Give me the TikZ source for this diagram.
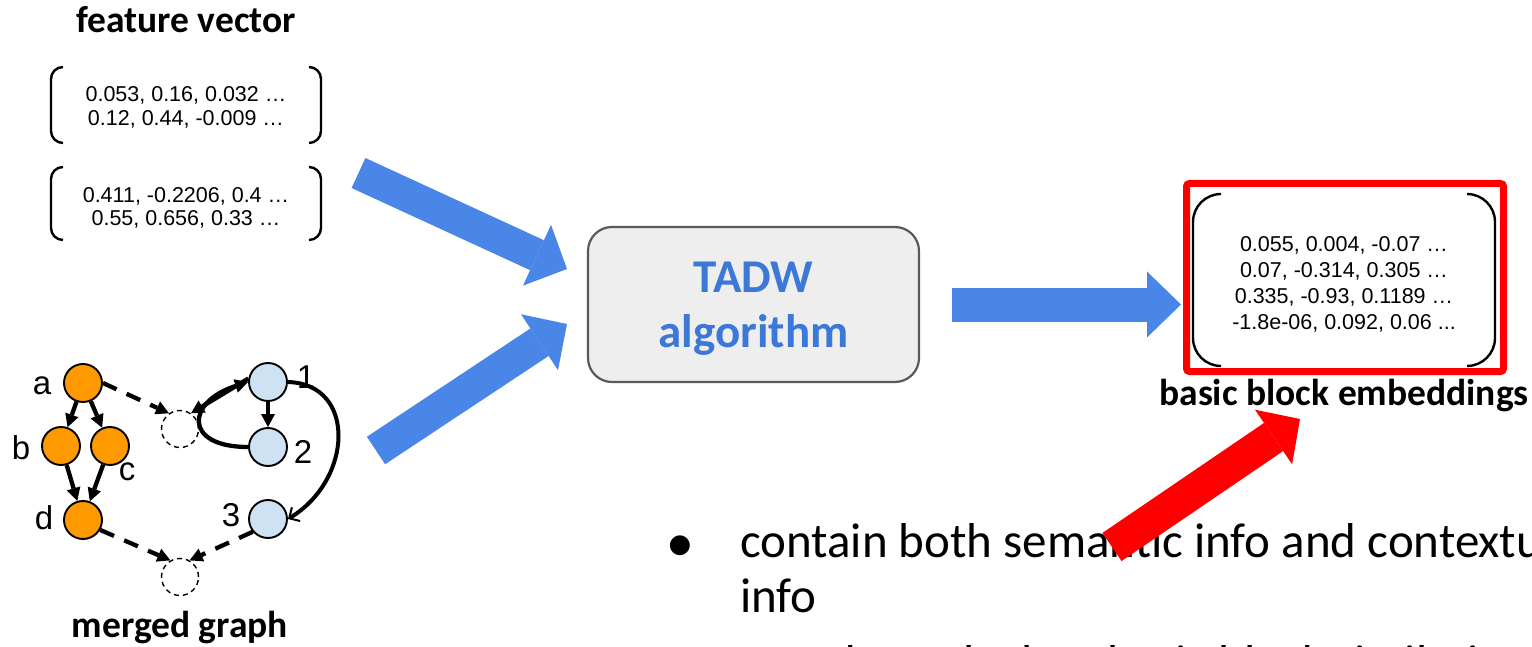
\documentclass[tikz,border=0pt]{standalone}
\usepackage{fontspec}
\setmainfont{Carlito}
\newfontfamily\numfont{Liberation Sans}
\newfontfamily\symfont{DejaVu Sans}
\usetikzlibrary{arrows.meta,calc}

\definecolor{flowblue}{HTML}{4A86E8}
\definecolor{titleblue}{HTML}{3C78D8}
\definecolor{boxgray}{HTML}{EEEEEE}
\definecolor{boxedge}{HTML}{595959}
\definecolor{cfgorange}{HTML}{FF9900}
\definecolor{cfgblue}{HTML}{CFE2F3}

% round brackets drawn on the left and right sides of a node
\newcommand\vecbrackets[2]{%
  \draw[bracketline, rounded corners=#2] ($(#1.north west)+(#2,0)$) -- (#1.north west)
    -- (#1.south west) -- ($(#1.south west)+(#2,0)$);
  \draw[bracketline, rounded corners=#2] ($(#1.north east)+(-#2,0)$) -- (#1.north east)
    -- (#1.south east) -- ($(#1.south east)+(-#2,0)$);
}

\begin{document}
\begin{tikzpicture}[x=1pt,y=-1pt,
  bracketline/.style={line width=2.4pt},
  vecbox/.style={inner sep=0pt, outer sep=0pt},
  vectext/.style={inner sep=0pt, align=center, font=\numfont\fontsize{21.5}{23.5}\selectfont},
  heading/.style={inner sep=0pt, anchor=base, font=\bfseries\fontsize{37.5}{40}\selectfont},
  bigarrow/.style={draw=flowblue, line width=33pt,
    -{Triangle[length=33pt,width=67pt,line width=0pt]}},
  cfgnode/.style={circle, draw, line width=1.9pt, minimum size=38pt, inner sep=0pt},
  ghost/.style={circle, draw, fill=white, dash pattern=on 5pt off 4pt, line width=1.4pt,
    minimum size=37pt, inner sep=0pt},
  cfgedge/.style={line width=4.3pt, -{Triangle[length=13pt,width=14pt,line width=0pt]}},
  ghostedge/.style={cfgedge, dash pattern=on 15pt off 11pt},
  glabel/.style={inner sep=0pt, font=\numfont\fontsize{33}{35}\selectfont},
  bodytext/.style={inner sep=0pt, anchor=base west, font=\fontsize{49}{58}\selectfont}
]
\useasboundingbox (0,0) rectangle (1532,647);
\clip (0,0) rectangle (1532,647);
\fill[white] (0,0) rectangle (1532,647);

% ---------- feature vectors ----------
\node[heading] (fvcap) at (186,33) {feature vector};
\node[vecbox, minimum width=270pt, minimum height=76pt] (fv1) at (186,105) {};
\vecbrackets{fv1}{12pt}
\node[vectext] (fv1txt) at (186,107.4) {0.053, 0.16, 0.032 …\\0.12, 0.44, -0.009 …};
\node[vecbox, minimum width=270pt, minimum height=73pt] (fv2) at (186,203.5) {};
\vecbrackets{fv2}{12pt}
\node[vectext] (fv2txt) at (186,207.9) {0.411, -0.2206, 0.4 …\\0.55, 0.656, 0.33 …};

% ---------- merged graph ----------
\node[cfgnode, fill=cfgorange] (a) at (83,383) {};
\node[cfgnode, fill=cfgorange] (b) at (61,446) {};
\node[cfgnode, fill=cfgorange] (c) at (110,446) {};
\node[cfgnode, fill=cfgorange] (d) at (83,520) {};
\node[cfgnode, fill=cfgblue] (n1) at (268,382) {};
\node[cfgnode, fill=cfgblue] (n2) at (268,447) {};
\node[cfgnode, fill=cfgblue] (n3) at (268,519) {};
\node[ghost] (u) at (180,429) {};
\node[ghost] (l) at (180,577) {};

\node[glabel] (la) at (42,386) {a};
\node[glabel] (lb) at (21,448) {b};
\node[glabel] (lc) at (127,472) {c};
\node[glabel] (ld) at (44,518) {d};
\node[glabel] (l1) at (306,377) {1};
\node[glabel] (l2) at (303,452) {2};
\node[glabel] (l3) at (231,515) {3};

\draw[cfgedge] (a) -- (b);
\draw[cfgedge] (a) -- (c);
\draw[cfgedge] (b) -- (d);
\draw[cfgedge] (c) -- (d);
\draw[cfgedge] (n1) -- (n2);
\draw[cfgedge] (n2.west) .. controls (183,447) and (186,402) .. (n1.west);
\draw[cfgedge] (n1.170) -- (u.55);
\draw[line width=4pt, -{Straight Barb[length=8pt,width=16pt,line width=2pt]}]
  (n1.east) .. controls (357,384) and (353,480) .. (n3.east);
\draw[ghostedge] (a.east) -- (u.125);
\draw[ghostedge] (d.-30) -- (l.120);
\draw[ghostedge] (n3.220) -- (l.60);

\node[heading] (mgcap) at (180,637) {merged graph};

% ---------- TADW ----------
\node[draw=boxedge, fill=boxgray, line width=2.2pt, rounded corners=24pt,
  minimum width=331pt, minimum height=155pt, align=center, text=titleblue, text depth=0pt,
  font=\bfseries\fontsize{47}{55}\selectfont] (tadw) at (753.5,304.5) {TADW\\algorithm};

% ---------- embeddings ----------
\node[draw=red, line width=7pt, rounded corners=3pt, outer sep=0pt,
  minimum width=317pt, minimum height=188pt] (frame) at (1345,277.5) {};
\node[vecbox, minimum width=302pt, minimum height=172pt] (emb) at (1344,280) {};
\vecbrackets{emb}{28pt}
\node[vectext, font=\numfont\fontsize{21.5}{26}\selectfont] (embtxt) at (1344,283.9)
  {0.055, 0.004, -0.07 …\\0.07, -0.314, 0.305 …\\0.335, -0.93, 0.1189 …\\-1.8e-06, 0.092, 0.06 ...};
\node[heading] (embcap) at (1344,405) {basic block embeddings};

% ---------- flow arrows ----------
\coordinate (fvout) at (358.5,173);
\coordinate (tadwin1) at (567,269);
\coordinate (cfgout) at (376,450.5);
\coordinate (tadwin2) at (567,324);
\draw[bigarrow] (fvout) -- (tadwin1);
\draw[bigarrow] (cfgout) -- (tadwin2);
\draw[bigarrow, line width=34pt, -{Triangle[length=34pt,width=66pt,line width=0pt]}]
  ($(tadw.east)+(32,0)$) -- ($(tadw.east -| frame.west)+(-5.5,0)$);

% ---------- notes ----------
\node[inner sep=0pt, font=\symfont\fontsize{26}{26}\selectfont] (dot) at (680,546) {●};
\node[bodytext] (note1) at (740,557) {contain both semantic info and contextual};
\node[bodytext] (note2) at (740,612) {info};
\node[bodytext] (note3) at (761,679) {used to calculate basic block similarity};

\coordinate (notetail) at (1112,547);
\coordinate (embin) at (1300,419);
\draw[draw=red, line width=34pt, -{Triangle[length=32pt,width=66pt,line width=0pt]}]
  (notetail) -- (embin);
\end{tikzpicture}
\end{document}
